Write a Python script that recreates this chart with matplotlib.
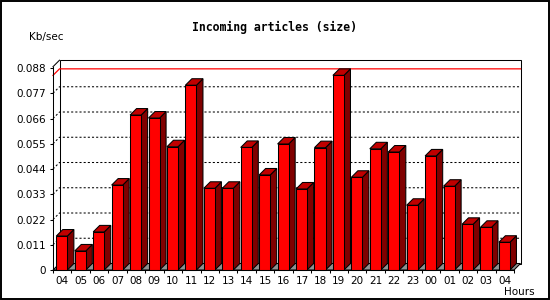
import matplotlib
matplotlib.use("Agg")
import matplotlib.pyplot as plt
from matplotlib.patches import Rectangle, Polygon

# data
hours = ["04", "05", "06", "07", "08", "09", "10", "11", "12", "13", "14", "15", "16",
         "17", "18", "19", "20", "21", "22", "23", "00", "01", "02", "03", "04"]
kbsec = [0.0148, 0.0083, 0.0166, 0.0370, 0.0675, 0.0662, 0.0537, 0.0805, 0.0356, 0.0356,
         0.0534, 0.0414, 0.0549, 0.0353, 0.0533, 0.0848, 0.0404, 0.0528, 0.0514, 0.0282,
         0.0497, 0.0365, 0.0199, 0.0186, 0.0121]
yticks = [0, 0.011, 0.022, 0.033, 0.044, 0.055, 0.066, 0.077, 0.088]

FRONT = "#ff0000"
TOP = "#c00000"
SIDE = "#800000"
FLOOR = "#909090"
LW = 0.75
DEPTH = 6.5  # pixels of the fake 3d depth

fig = plt.figure(figsize=(5.5, 3), dpi=100)
ax = fig.add_axes([53 / 550, 30 / 300, 461 / 550, 203.3 / 300])
n = len(hours)
ytop = 0.08857
ax.set_xlim(0, n)
ax.set_ylim(0, ytop)

# depth in data units
dx = DEPTH / (ax.bbox.width / n)
dy = DEPTH / (ax.bbox.height / ytop)

for s in ["top", "right"]:
    ax.spines[s].set_visible(False)
for s in ["left", "bottom"]:
    ax.spines[s].set_linewidth(LW)
    ax.spines[s].set_zorder(20)

# back wall
ax.add_patch(Rectangle((dx, dy), n, ytop, fill=False, ec="black", lw=LW, clip_on=False, zorder=1))
ax.plot([0, dx], [ytop, ytop + dy], color="black", lw=LW, clip_on=False, zorder=1)

# grid lines on the back wall
for t in yticks[1:-1]:
    ax.plot([0, dx, n + dx], [t, t + dy, t + dy], color="black", lw=LW,
            linestyle=(0, (2, 2)), clip_on=False, zorder=2)

# max line
vmax = max(kbsec)
ax.plot([0, dx, n + dx], [vmax, vmax + dy, vmax + dy], color="red", lw=LW * 1.2,
        clip_on=False, zorder=3)

# floor
ax.add_patch(Polygon([(0, 0), (n, 0), (n + dx, dy), (dx, dy)], closed=True, fc=FLOOR,
                     ec="black", lw=LW, clip_on=False, zorder=4))

# bars
w = 0.6
off = 0.18
for i, v in enumerate(kbsec):
    x0 = i + off
    x1 = x0 + w
    ax.add_patch(Polygon([(x1, 0), (x1 + dx, dy), (x1 + dx, v + dy), (x1, v)], closed=True,
                         fc=SIDE, ec="black", lw=LW, clip_on=False, zorder=5))
    ax.add_patch(Polygon([(x0, v), (x1, v), (x1 + dx, v + dy), (x0 + dx, v + dy)], closed=True,
                         fc=TOP, ec="black", lw=LW, clip_on=False, zorder=5))
    ax.add_patch(Rectangle((x0, 0), w, v, fc=FRONT, ec="black", lw=LW, clip_on=False, zorder=6))

# ticks
ax.set_yticks(yticks)
ax.set_yticklabels(["0" if t == 0 else "%.3f" % t for t in yticks])
ax.set_xticks([i + 0.5 for i in range(n)])
ax.set_xticklabels(hours)
ax.set_xticks(range(n + 1), minor=True)
ax.tick_params(axis="x", which="major", length=0, pad=4, labelsize=7.5)
ax.tick_params(axis="x", which="minor", length=2.5, width=LW, direction="out")
ax.tick_params(axis="y", length=2.2, width=LW, direction="out", pad=3, labelsize=7.5)

fig.text(274 / 550, 1 - 27 / 300, "Incoming articles (size)", ha="center", va="center",
         family="DejaVu Sans Mono", weight="bold", fontsize=8.3)
fig.text(29 / 550, 1 - 37 / 300, "Kb/sec", ha="left", va="center", fontsize=7.5)
fig.text(504 / 550, 1 - 292 / 300, "Hours", ha="left", va="center", fontsize=7.5)

# outer frame
fig.patches.append(Rectangle((0.6 / 550, 0.6 / 300), 548.4 / 550, 298.4 / 300, fill=False,
                             ec="black", lw=1.4, transform=fig.transFigure, figure=fig))

fig.savefig("out.png", dpi=100)
